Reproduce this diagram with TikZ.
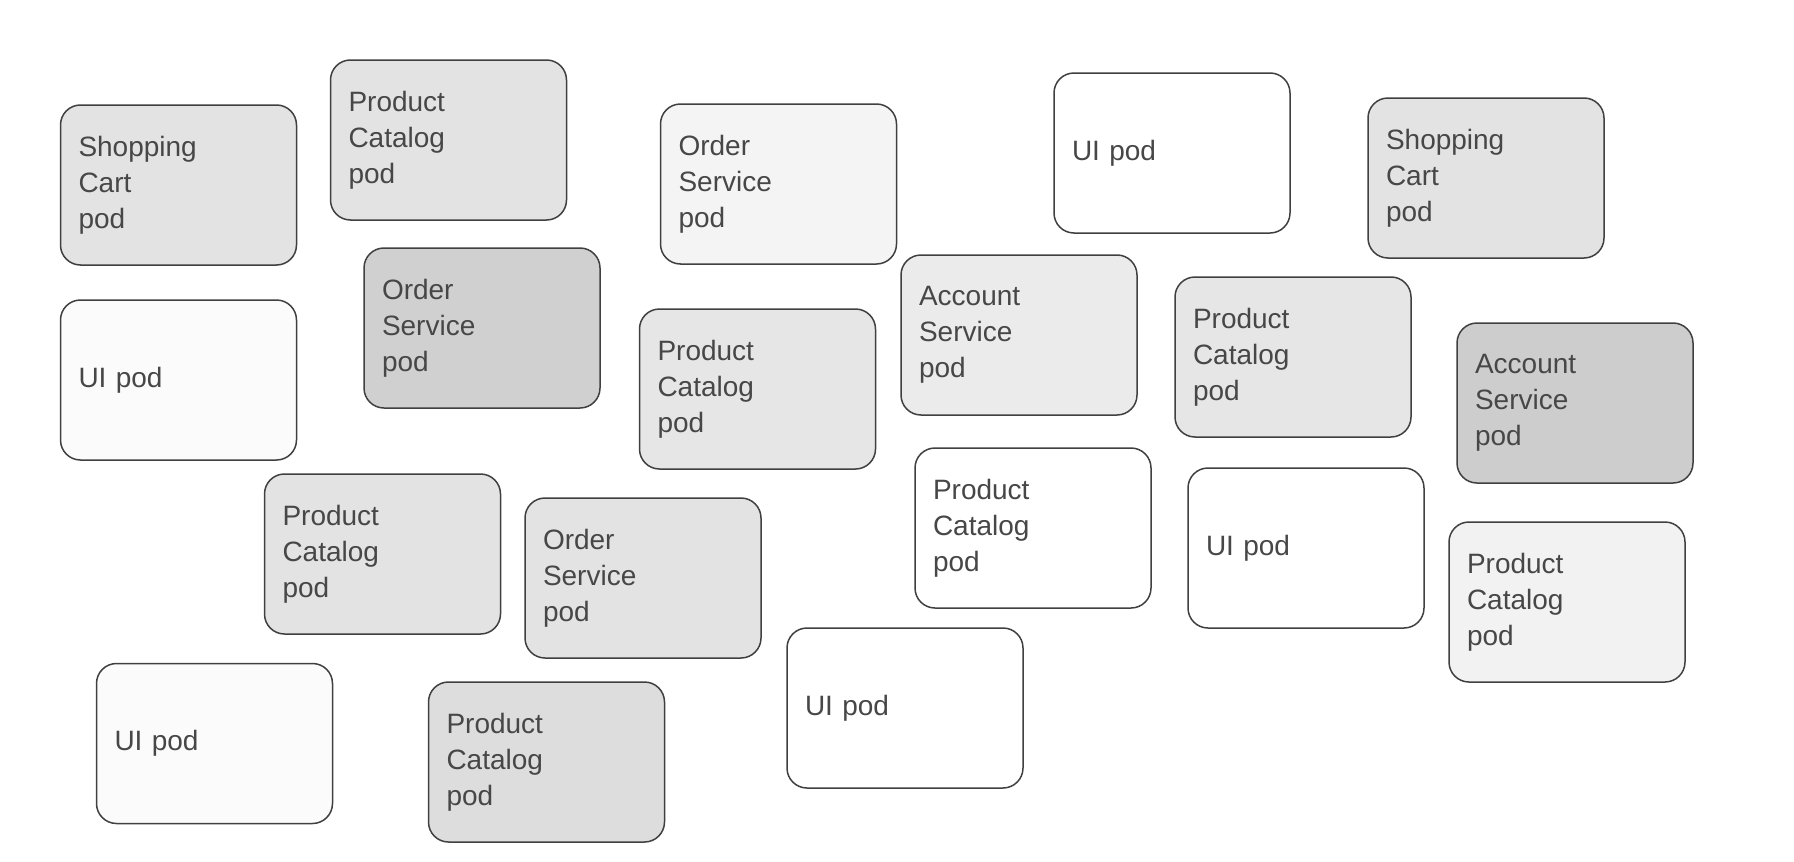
\documentclass[tikz,border=0pt]{standalone}
\usepackage{fontspec}
\setmainfont{Liberation Sans}
\begin{document}
\begin{tikzpicture}[x=0.5pt,y=-0.5pt,
  pod/.style={draw=black!75, line width=0.75pt, rounded corners=10pt,
    minimum width=118pt, minimum height=80pt, text width=100pt,
    inner xsep=9pt, inner ysep=0pt, align=left, text=black!72,
    font=\fontsize{14pt}{18pt}\selectfont}]
\useasboundingbox[fill=white] (0,0) rectangle (1794,862);
\definecolor{gA}{HTML}{E3E3E3}
\definecolor{gB}{HTML}{D0D0D0}
\definecolor{gC}{HTML}{F4F4F4}
\definecolor{gD}{HTML}{EBEBEB}
\definecolor{gE}{HTML}{E6E6E6}
\definecolor{gF}{HTML}{DDDDDD}
\definecolor{gG}{HTML}{FBFBFB}
\definecolor{gH}{HTML}{F2F2F2}
\definecolor{gI}{HTML}{CDCDCD}
% top row
\node[pod, fill=gA] (sc1) at (178.5,185) {Shopping\\Cart\\pod};
\node[pod, fill=gA] (pc1) at (448.5,140) {Product\\Catalog\\pod};
\node[pod, fill=gC] (os2) at (778.5,184) {Order\\Service\\pod};
\node[pod, fill=white] (ui2) at (1172,153) {UI pod};
\node[pod, fill=gA] (sc2) at (1486,178) {Shopping\\Cart\\pod};
% second row
\node[pod, fill=gG] (ui1) at (178.5,380) {UI pod};
\node[pod, fill=gB] (os1) at (482,328) {Order\\Service\\pod};
\node[pod, fill=gE] (pc2) at (757.5,389) {Product\\Catalog\\pod};
\node[pod, fill=gD] (as1) at (1019,335) {Account\\Service\\pod};
\node[pod, fill=gE] (pc3) at (1293,357) {Product\\Catalog\\pod};
\node[pod, fill=gI] (as2) at (1575,403) {Account\\Service\\pod};
% third row
\node[pod, fill=gA] (pc4) at (382.5,554) {Product\\Catalog\\pod};
\node[pod, fill=gA] (os3) at (643,578) {Order\\Service\\pod};
\node[pod, fill=white] (pc6) at (1033,528) {Product\\Catalog\\pod};
\node[pod, fill=white] (ui5) at (1306,548) {UI pod};
\node[pod, fill=gH] (pc7) at (1567,602) {Product\\Catalog\\pod};
% bottom row
\node[pod, fill=gG] (ui3) at (214.5,743.5) {UI pod};
\node[pod, fill=gF] (pc5) at (546.5,762) {Product\\Catalog\\pod};
\node[pod, fill=white] (ui4) at (905,708) {UI pod};
\end{tikzpicture}
\end{document}
